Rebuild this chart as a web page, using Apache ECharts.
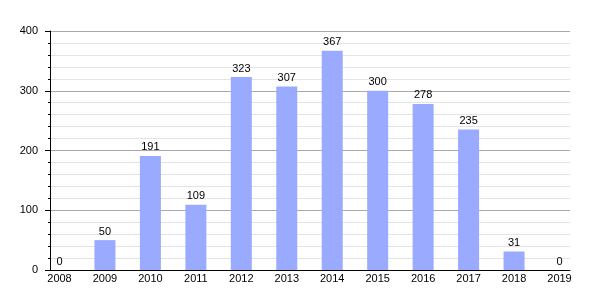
<!DOCTYPE html>
<html>
<head>
<meta charset="utf-8">
<script src="https://cdn.jsdelivr.net/npm/echarts@6/dist/echarts.min.js"></script>
<style>html,body{margin:0;padding:0;background:#fff}#c{width:600px;height:300px}</style>
</head>
<body>
<div id="c"></div>
<script>
const categories = ['2008','2009','2010','2011','2012','2013','2014','2015','2016','2017','2018','2019'];
const values = [0, 50, 191, 109, 323, 307, 367, 300, 278, 235, 31, 0];
const yTicks = [0, 100, 200, 300, 400];

const font = 'Liberation Sans, Arial, sans-serif';
const chart = echarts.init(document.getElementById('c'));
chart.setOption({
  animation: false,
  backgroundColor: '#fff',
  grid: [
    {left: 50, right: 30, top: 31, bottom: 30},
    {left: 59.5, right: 40.5, top: 31, bottom: 30}
  ],
  xAxis: [
    {type: 'category', gridIndex: 0, data: categories, boundaryGap: true,
     axisLine: {show: true, lineStyle: {color: '#000', width: 1}},
     axisTick: {show: false}, axisLabel: {show: false}, splitLine: {show: false}, z: 10},
    {type: 'category', gridIndex: 1, data: categories, boundaryGap: false,
     axisLine: {show: false}, axisTick: {show: false},
     axisLabel: {color: '#000', fontSize: 11, fontFamily: font, margin: 3},
     splitLine: {show: false}}
  ],
  yAxis: [
    {type: 'value', gridIndex: 0, min: yTicks[0], max: yTicks[yTicks.length-1], interval: 100,
     axisLine: {show: true, lineStyle: {color: '#000', width: 1}},
     axisTick: {show: true, length: 5, lineStyle: {color: '#000'}},
     minorTick: {show: true, splitNumber: 5, length: 2, lineStyle: {color: '#000'}},
     axisLabel: {color: '#000', fontSize: 11, fontFamily: font, margin: 12},
     splitLine: {show: true, lineStyle: {color: '#aaaaaa', width: 1}},
     minorSplitLine: {show: true, lineStyle: {color: '#e4e4e4', width: 1}}, z: 0},
    {type: 'value', gridIndex: 1, min: yTicks[0], max: yTicks[yTicks.length-1], interval: 100,
     show: false, splitLine: {show: false}}
  ],
  series: [{
    type: 'bar', xAxisIndex: 1, yAxisIndex: 1, data: values,
    barWidth: 21, z: 5,
    itemStyle: {color: '#99aaff'},
    label: {show: true, position: 'top', distance: 3, color: '#000', fontSize: 11, fontFamily: font}
  }]
});
</script>
</body>
</html>
